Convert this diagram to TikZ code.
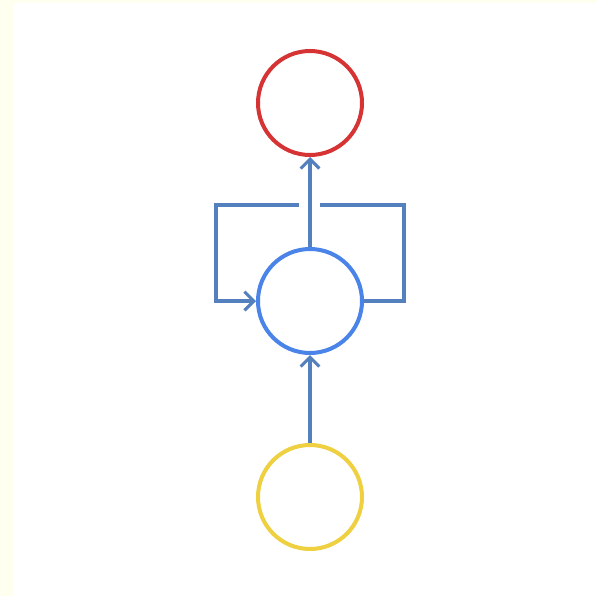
\documentclass[tikz,border=0pt]{standalone}
\usepackage{tikz}
\usepackage{xcolor}
\usetikzlibrary{calc,arrows.meta}
\definecolor{pageIvory}{RGB}{255,255,240}
\definecolor{linkBlue}{RGB}{84,128,190}
\definecolor{cellBlue}{RGB}{74,132,232}
\definecolor{outRed}{RGB}{214,52,52}
\definecolor{inYellow}{RGB}{238,208,64}

\begin{document}
\begin{tikzpicture}[x=0.75pt,y=-0.75pt,
  >={Straight Barb[length=7pt,width=14pt]},
  unit/.style={circle,minimum size=78pt,inner sep=0pt,line width=3pt,fill=white},
  link/.style={draw=linkBlue,line width=2.3pt,line join=miter}]
\fill[pageIvory] (0,0) rectangle (597,596);
\fill[white] (14,3) rectangle (597,596);
\useasboundingbox (0,0) rectangle (597,596);
\node[unit,draw=outRed] (out) at (310,103) {};
\node[unit,draw=cellBlue] (cell) at (310,301) {};
\node[unit,draw=inYellow] (in) at (310,497) {};
\coordinate (cornerR) at (404,205);
\coordinate (cornerL) at (216,205);
\coordinate (gapR) at (320,205);
\coordinate (gapL) at (299,205);
% input and output
\draw[link,->] (in) -- (cell);
\draw[link,->] (cell) -- (out);
% recurrent loop
\draw[link] (cell.east) -| (cornerR) -- (gapR);
\draw[link,->] (gapL) -- (cornerL) |- (cell.west);
\end{tikzpicture}
\end{document}
